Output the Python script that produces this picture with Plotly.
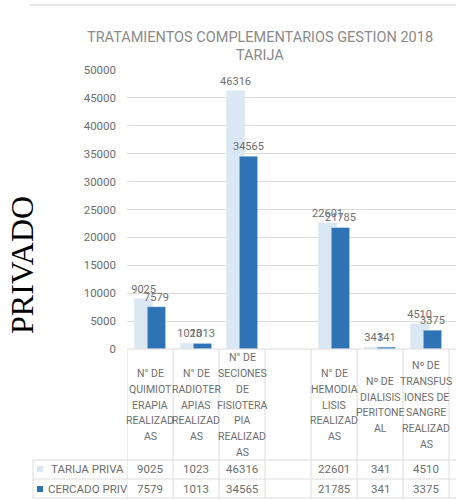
import plotly.graph_objects as go

# Chart data
categories = [
    ["N° DE", "QUIMIOT", "ERAPIA", "REALIZAD", "AS"],
    ["N° DE", "RADIOTER", "APIAS", "REALIZAD", "AS"],
    ["N° DE", "SECIONES", "DE", "FISIOTERA", "PIA", "REALIZAD", "AS"],
    [],
    ["N° DE", "HEMODIA", "LISIS", "REALIZAD", "AS"],
    ["Nº DE", "DIALISIS", "PERITONE", "AL"],
    ["Nº DE", "TRANSFUS", "IONES DE", "SANGRE", "REALIZAD", "AS"],
    [],
]
tarija_priv = [9025, 1023, 46316, None, 22601, 341, 4510, None]
cercado_priv = [7579, 1013, 34565, None, 21785, 341, 3375, None]
series_names = ["TARIJA PRIVA", "CERCADO PRIV"]
title_lines = ["TRATAMIENTOS COMPLEMENTARIOS GESTION 2018", "TARIJA"]
y_ticks = list(range(0, 50001, 5000))

LIGHT = "#dae7f4"
DARK = "#2e74b5"
TXT = "#6e6e6e"
GRID = "#dcdcdc"
FONT = "Roboto, Calibri, sans-serif"

W, H = 456, 500
L, R, T, B = 127, 0, 70, 151
PW, PH = W - L - R, H - T - B
COL = 46.0  # pixel width of one category column
x_idx = list(range(len(categories)))


def fx(px):
    return (px - L) / PW


def fy(py):
    return (H - B - py) / PH


fig = go.Figure()
fig.add_trace(go.Bar(
    x=x_idx, y=tarija_priv, name=series_names[0], marker_color=LIGHT,
    offset=-0.34, width=0.40, textposition="outside",
    texttemplate="%{y:d}", textfont=dict(family=FONT, size=11, color=TXT),
    cliponaxis=False, constraintext="none", showlegend=False,
))
fig.add_trace(go.Bar(
    x=x_idx, y=cercado_priv, name=series_names[1], marker_color=DARK,
    offset=-0.06, width=0.40, textposition="outside",
    texttemplate="%{y:d}", textfont=dict(family=FONT, size=11, color=TXT),
    cliponaxis=False, constraintext="none", showlegend=False,
))

shapes = []
ann = []

# chart border line at top
shapes.append(dict(type="line", xref="paper", yref="paper",
                   x0=fx(30), x1=fx(W), y0=fy(5), y1=fy(5),
                   line=dict(color="#d0d0d0", width=1)))

# data table grid
x_end = -0.5 + PW / COL
shapes.append(dict(type="line", xref="x", yref="paper", x0=-0.5, x1=x_end,
                   y0=0, y1=0, line=dict(color=GRID, width=1)))
for py in (460, 479, 498):
    shapes.append(dict(type="line", xref="paper", yref="paper",
                       x0=fx(33), x1=1, y0=fy(py), y1=fy(py),
                       line=dict(color=GRID, width=1)))
shapes.append(dict(type="line", xref="paper", yref="paper",
                   x0=fx(33), x1=fx(33), y0=fy(460), y1=fy(498),
                   line=dict(color=GRID, width=1)))
for k in range(len(categories) + 1):
    shapes.append(dict(type="line", xref="x", yref="paper",
                       x0=k - 0.5, x1=k - 0.5, y0=0, y1=fy(498),
                       line=dict(color=GRID, width=1)))

# category labels inside the table header
for i, lines in enumerate(categories):
    n = len(lines)
    for j, s in enumerate(lines):
        py = 405 + (j - (n - 1) / 2) * 15.7
        ann.append(dict(x=i, y=fy(py), xref="x", yref="paper", text=s,
                        showarrow=False, xanchor="center", yanchor="middle",
                        font=dict(family=FONT, size=10.5, color=TXT)))

# table values
for row_py, vals in ((469, tarija_priv), (489, cercado_priv)):
    for i, v in enumerate(vals):
        if v is None:
            continue
        ann.append(dict(x=i, y=fy(row_py), xref="x", yref="paper", text=str(v),
                        showarrow=False, xanchor="center", yanchor="middle",
                        font=dict(family=FONT, size=11.5, color=TXT)))

# legend keys in the table
for (row_py, name, color, tx) in ((469, series_names[0], LIGHT, 49),
                                  (489, series_names[1], DARK, 46)):
    shapes.append(dict(type="rect", xref="paper", yref="paper",
                       x0=fx(37), x1=fx(43), y0=fy(row_py - 3), y1=fy(row_py + 3),
                       fillcolor=color, line=dict(width=0)))
    ann.append(dict(x=fx(tx), y=fy(row_py), xref="paper", yref="paper", text=name,
                    showarrow=False, xanchor="left", yanchor="middle",
                    font=dict(family=FONT, size=11.5, color=TXT)))

# title
for s, py in zip(title_lines, (37, 55)):
    ann.append(dict(x=fx(260), y=fy(py), xref="paper", yref="paper", text=s,
                    showarrow=False, xanchor="center", yanchor="middle",
                    font=dict(family=FONT, size=14.5, color="#8a8a8a")))

# side label
ann.append(dict(x=fx(22), y=fy(265), xref="paper", yref="paper", text="PRIVADO",
                showarrow=False, textangle=-90, xanchor="center", yanchor="middle",
                font=dict(family="Liberation Serif, Times New Roman, serif",
                          size=32, color="#000000")))

fig.update_layout(
    width=W, height=H,
    margin=dict(l=L, r=R, t=T, b=B, pad=0),
    paper_bgcolor="white", plot_bgcolor="white",
    barmode="overlay",
    showlegend=False,
    shapes=shapes,
    annotations=ann,
    xaxis=dict(range=[-0.5, x_end], showticklabels=False, showgrid=False,
               zeroline=False, showline=False, ticks=""),
    yaxis=dict(range=[0, 50000], tickvals=y_ticks, tickformat="d",
               showgrid=True, gridcolor=GRID, gridwidth=1, zeroline=False,
               showline=False, ticks="", ticklabelstandoff=10,
               tickfont=dict(family=FONT, size=11.5, color=TXT)),
)

fig.write_html("out.html")
